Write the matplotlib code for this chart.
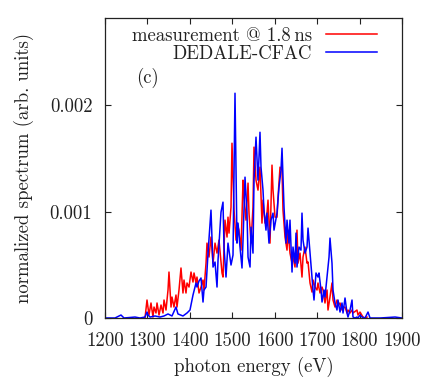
import matplotlib
matplotlib.use("Agg")
import matplotlib.pyplot as plt

plt.rcParams['font.family'] = ['cmr10', 'DejaVu Serif']
plt.rcParams['axes.formatter.use_mathtext'] = True

# measurement @ 1.8 ns (red)
meas_e = [1290, 1294.3, 1299.0, 1303.7, 1308.4, 1313.1, 1315.5, 1320.2, 1322.6, 1327.3,
          1332.0, 1336.7, 1339.1, 1343.8, 1348.5, 1350.8, 1355.6, 1357.9, 1362.6, 1367.3,
          1369.7, 1374.4, 1379.1, 1383.8, 1386.2, 1390.9, 1393.3, 1398.0, 1402.7, 1407.4,
          1409.8, 1414.5, 1416.8, 1421.6, 1426.3, 1431.0, 1433.3, 1438.1, 1440.4, 1445.1,
          1449.8, 1454.6, 1459.3, 1464.0, 1468.7, 1475.8, 1478.1, 1482.8, 1487.6, 1489.9,
          1492.3, 1497.0, 1499.3, 1504.1, 1508.8, 1511.1, 1515.8, 1520.6, 1525.3, 1527.6,
          1532.3, 1537.1, 1539.4, 1544.1, 1548.8, 1551.2, 1555.9, 1560.6, 1565.3, 1570.0,
          1572.4, 1577.1, 1581.8, 1584.2, 1588.9, 1593.6, 1596.0, 1600.7, 1605.4, 1607.8,
          1612.5, 1617.2, 1619.5, 1624.3, 1629.0, 1631.3, 1636.0, 1640.8, 1643.1, 1647.8,
          1652.5, 1654.9, 1659.6, 1664.3, 1666.7, 1671.4, 1676.1, 1678.5, 1683.2, 1687.9,
          1690.3, 1695.0, 1699.7, 1702.0, 1706.8, 1711.5, 1713.8, 1718.5, 1723.3, 1725.6,
          1730.3, 1735.0, 1737.4, 1742.1, 1746.8, 1749.2, 1753.9, 1758.6, 1761.0, 1765.7,
          1770.4, 1772.7, 1777.5, 1782.2, 1784.5, 1793.9, 1796.3, 1801.0, 1808.1, 1812.8,
          1817.5]
meas_v = [0.0, 0.0, 0.000169, 0.000028, 0.000141, 0.000009, 0.000103, 0.000047, 0.000141, 0.000028,
          0.000122, 0.000047, 0.000169, 0.000075, 0.000263, 0.000432, 0.000103, 0.000197, 0.000103, 0.000216,
          0.000103, 0.000263, 0.00047, 0.000235, 0.000357, 0.000235, 0.000329, 0.000291, 0.000432, 0.000338,
          0.000423, 0.000329, 0.000385, 0.000235, 0.000291, 0.000357, 0.000263, 0.000516, 0.000704, 0.000573,
          0.000761, 0.000516, 0.000704, 0.00061, 0.000732, 0.000423, 0.000385, 0.00092, 0.000761, 0.000948,
          0.000798, 0.001042, 0.001643, 0.001014, 0.000732, 0.000892, 0.000826, 0.000638, 0.001296, 0.001136,
          0.00092, 0.001268, 0.000986, 0.000704, 0.001042, 0.001606, 0.001296, 0.001202, 0.001418, 0.000892,
          0.001108, 0.000892, 0.000986, 0.001108, 0.000704, 0.001437, 0.001202, 0.000948, 0.000948, 0.001136,
          0.001418, 0.00139, 0.001014, 0.000761, 0.000638, 0.000826, 0.00061, 0.000516, 0.000573, 0.000479,
          0.000826, 0.000516, 0.00061, 0.000385, 0.000573, 0.000667, 0.000516, 0.000526, 0.000329, 0.000244,
          0.000357, 0.000291, 0.000263, 0.000329, 0.000235, 0.000291, 0.000263, 0.000141, 0.000263, 0.000075,
          0.000197, 0.000329, 0.000169, 0.000103, 0.000169, 0.000122, 0.000141, 0.000075, 0.000094, 0.000103,
          0.000047, 0.000075, 0.000047, 0.000075, 0.000047, 0.000075, 0.000028, 0.000056, 0.000009, 0.0,
          0.000009]

# DEDALE-CFAC (blue)
calc_e = [1200, 1223.6, 1237.7, 1244.8, 1270.7, 1282.5, 1294.3, 1299.0, 1301.4, 1306.1,
          1317.9, 1329.6, 1339.1, 1348.5, 1357.9, 1367.3, 1372.0, 1383.8, 1393.3, 1400.3,
          1405.0, 1407.4, 1414.5, 1416.8, 1421.6, 1426.3, 1431.0, 1433.3, 1438.1, 1442.8,
          1449.8, 1454.6, 1459.3, 1464.0, 1466.4, 1473.4, 1478.1, 1480.5, 1485.2, 1489.9,
          1497.0, 1501.7, 1506.4, 1511.1, 1513.5, 1518.2, 1522.9, 1525.3, 1530.0, 1534.7,
          1537.1, 1541.8, 1544.1, 1548.8, 1551.2, 1555.9, 1560.6, 1563.0, 1565.3, 1567.7,
          1572.4, 1574.7, 1579.4, 1581.8, 1586.5, 1591.2, 1596.0, 1598.3, 1605.4, 1610.1,
          1614.8, 1617.2, 1621.9, 1626.6, 1629.0, 1633.7, 1636.0, 1640.8, 1643.1, 1647.8,
          1650.2, 1652.5, 1657.2, 1661.9, 1664.3, 1666.7, 1671.4, 1676.1, 1678.5, 1683.2,
          1687.9, 1690.3, 1692.6, 1697.3, 1702.0, 1704.4, 1709.1, 1711.5, 1716.2, 1718.5,
          1723.3, 1728.0, 1730.3, 1735.0, 1737.4, 1742.1, 1746.8, 1749.2, 1753.9, 1758.6,
          1761.0, 1765.7, 1770.4, 1772.7, 1777.5, 1782.2, 1784.5, 1789.2, 1793.9, 1796.3,
          1801.0, 1805.7, 1812.8, 1819.9, 1824.6, 1848.2, 1883.6, 1900]
calc_v = [0.0, 0.0, 0.000028, 0.0, 0.000009, 0.0, 0.000009, 0.000056, 0.000028, 0.000009,
          0.000019, 0.000009, 0.000019, 0.000038, 0.000019, 0.000103, 0.000038, 0.000019, 0.000047, 0.000075,
          0.000169, 0.000216, 0.000329, 0.000291, 0.000348, 0.000376, 0.00015, 0.000263, 0.000291, 0.00061,
          0.001014, 0.000479, 0.000526, 0.000291, 0.000545, 0.000995, 0.001089, 0.000667, 0.000385, 0.000704,
          0.000498, 0.000592, 0.002113, 0.000704, 0.000892, 0.000667, 0.00047, 0.000732, 0.001324, 0.000986,
          0.000573, 0.000479, 0.000854, 0.00061, 0.001296, 0.0017, 0.001296, 0.001512, 0.001746, 0.001418,
          0.001202, 0.001014, 0.000826, 0.000986, 0.000704, 0.00092, 0.000986, 0.000826, 0.000986, 0.00123,
          0.00139, 0.001596, 0.001042, 0.000704, 0.00092, 0.000704, 0.00092, 0.000432, 0.000667, 0.000516,
          0.000798, 0.000479, 0.000667, 0.000638, 0.000986, 0.000732, 0.00061, 0.000667, 0.000845, 0.00061,
          0.000385, 0.000263, 0.000169, 0.000423, 0.000385, 0.000423, 0.000263, 0.00015, 0.000263, 0.000197,
          0.000385, 0.000573, 0.000751, 0.000516, 0.000263, 0.000141, 0.000075, 0.000169, 0.000056, 0.000141,
          0.000047, 0.000188, 0.000047, 0.000009, 0.000075, 0.000169, 0.000009, 0.0, 0.000009, 0.0,
          0.000028, 0.000009, 0.0, 0.000056, 0.0, 0.0, 0.000009, 0.0]

x_ticks = [1200, 1300, 1400, 1500, 1600, 1700, 1800, 1900]
x_ticklabels = ["1200", "1300", "1400", "1500", "1600", "1700", "1800", "1900"]
y_ticks = [0, 0.001, 0.002]
y_ticklabels = ["0", "0.001", "0.002"]

fig = plt.figure(figsize=(4.35, 3.81), dpi=100)
ax = fig.add_axes([105/435, 1 - 318/381, 297/435, 300/381])

ax.plot(meas_e, meas_v, color=(1, 0, 0), lw=1.1, label="measurement @ 1.8\u2009ns")
ax.plot(calc_e, calc_v, color=(0, 0, 1), lw=1.1, label="DEDALE-CFAC")

ax.set_xlim(1200, 1900)
ax.set_ylim(0, 0.00282)
ax.set_xticks(x_ticks)
ax.set_xticklabels(x_ticklabels)
ax.set_yticks(y_ticks)
ax.set_yticklabels(y_ticklabels)
ax.tick_params(direction='in', top=True, right=True, length=4, width=0.8,
               labelsize=13.5, colors='#222222')
ax.tick_params(axis='y', pad=9)
ax.tick_params(axis='x', pad=10)
for s in ax.spines.values():
    s.set_linewidth(0.9)
    s.set_color('#222222')

ax.set_xlabel("photon energy (eV)", fontsize=13.5, color='#222222', labelpad=5)
ax.set_ylabel("normalized spectrum (arb. units)", fontsize=13.5, color='#222222', labelpad=11)

ax.text(0.105, 0.80, "(c)", transform=ax.transAxes, fontsize=13.5, color='#222222',
        ha='left', va='center')

leg = ax.legend(loc='upper right', bbox_to_anchor=(0.965, 1.02), frameon=False,
                markerfirst=False, fontsize=13.5, handlelength=2.7, handletextpad=0.75,
                labelspacing=0.0, borderpad=0.3)
for t in leg.get_texts():
    t.set_color('#222222')

fig.savefig("out.png", dpi=100)
